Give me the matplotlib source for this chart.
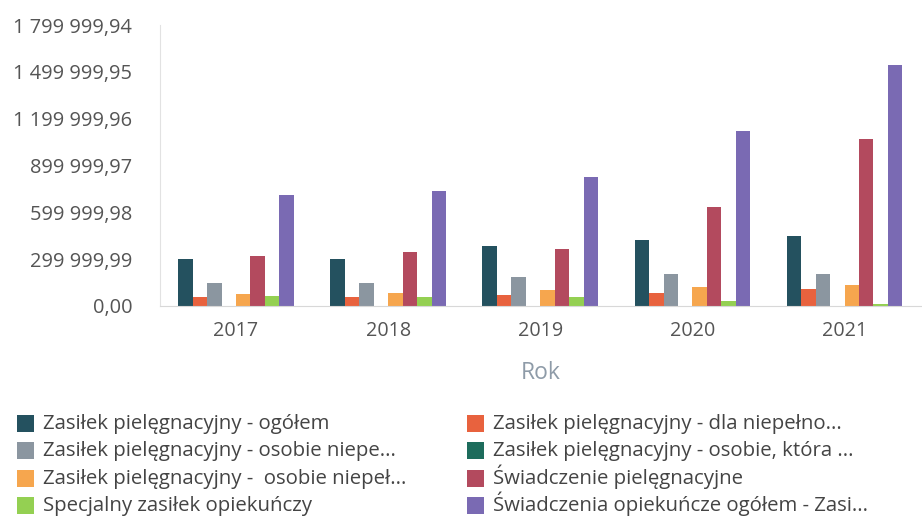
import numpy as np
import matplotlib.pyplot as plt
from matplotlib.patches import Rectangle
from matplotlib.ticker import FixedLocator, FuncFormatter

plt.rcParams['font.family'] = ['Open Sans', 'DejaVu Sans']

years = ["2017", "2018", "2019", "2020", "2021"]

series_names = [
    "Zasiłek pielęgnacyjny - ogółem",
    "Zasiłek pielęgnacyjny - dla niepełno...",
    "Zasiłek pielęgnacyjny - osobie niepe...",
    "Zasiłek pielęgnacyjny - osobie, która ...",
    "Zasiłek pielęgnacyjny -  osobie niepeł...",
    "Świadczenie pielęgnacyjne",
    "Specjalny zasiłek opiekuńczy",
    "Świadczenia opiekuńcze ogółem - Zasi...",
]

ogolem = [298000, 301000, 385000, 423000, 449000]
dla_niepelno = [58000, 58000, 70000, 83000, 109000]
osobie_niepe = [147000, 147000, 186000, 205000, 205000]
osobie_ktora = [3000, 2000, 1000, 500, 300]
osobie_niepel = [77000, 83000, 103000, 122000, 135000]
swiadczenie = [320000, 346000, 365000, 635000, 1070000]
specjalny = [64000, 58000, 58000, 32000, 13000]
opiekuncze = [712000, 737000, 827000, 1122000, 1545000]

values = [ogolem, dla_niepelno, osobie_niepe, osobie_ktora,
          osobie_niepel, swiadczenie, specjalny, opiekuncze]

colors = ["#24515f", "#e8623e", "#8b96a0", "#1d6c5c",
          "#f6a64e", "#b34a5e", "#94d052", "#7a6ab3"]

yticks = [0.00, 299999.99, 599999.98, 899999.97, 1199999.96, 1499999.95, 1799999.94]


def pl_format(v, pos=None):
    s = f"{v:,.2f}"
    return s.replace(",", " ").replace(".", ",")


W, H = 922, 522
fig = plt.figure(figsize=(W / 100, H / 100), dpi=100)
ax = fig.add_axes([0.1735, 0.4138, 0.825, 0.5382])

x = np.arange(len(years))
width = 0.095
for i, (vals, col) in enumerate(zip(values, colors)):
    off = (i - 3.5) * width
    ax.bar(x + off, vals, width, color=col, edgecolor=col, linewidth=0)

ax.set_xlim(-0.5, len(years) - 0.5)
ax.set_ylim(0, 1799999.94)
ax.yaxis.set_major_locator(FixedLocator(yticks))
ax.yaxis.set_major_formatter(FuncFormatter(pl_format))
ax.set_xticks(x)
ax.set_xticklabels(years)

for s in ["top", "right"]:
    ax.spines[s].set_visible(False)
ax.spines["left"].set_color("#e2e2e2")
ax.spines["bottom"].set_color("#d8d8d8")
ax.tick_params(axis="y", length=0, pad=20, labelsize=14.4, labelcolor="#555555")
ax.tick_params(axis="x", length=0, pad=11, labelsize=14.2, labelcolor="#555555")

ax.set_xlabel("Rok", fontsize=16.5, color="#8e9ba8", labelpad=14)

# legend drawn by hand: two columns filled row by row, rows on a fixed pitch
col_x = [17, 467]
row_y = [423, 450, 478, 505]
box = 17
for i, (name, col) in enumerate(zip(series_names, colors)):
    cx = col_x[i % 2]
    cy = row_y[i // 2]
    fig.add_artist(Rectangle((cx / W, 1 - (cy + box / 2) / H), box / W, box / H,
                             transform=fig.transFigure, facecolor=col,
                             edgecolor="none"))
    fig.text((cx + box + 9) / W, 1 - (cy + 6) / H, name, fontsize=14.7,
             color="#444444", va="baseline", ha="left")

fig.savefig("out.png", dpi=100)
